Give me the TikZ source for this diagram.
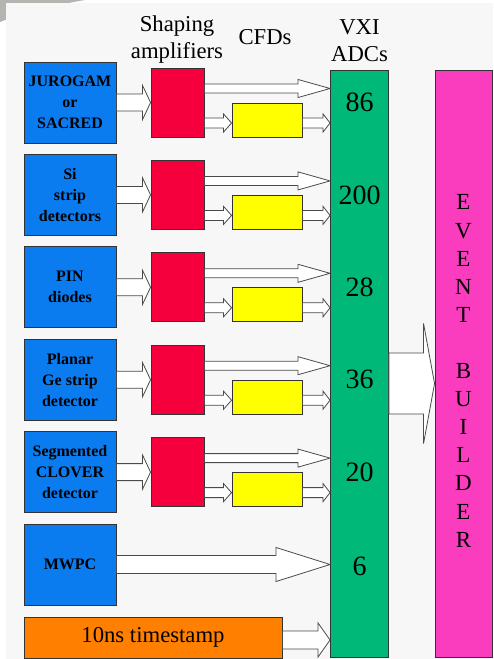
\documentclass[tikz,border=0pt]{standalone}
\usepackage{fontspec}
\setmainfont{Liberation Serif}
\usetikzlibrary{calc}
\definecolor{bgc}{HTML}{F7F7F7}
\definecolor{swoosh}{HTML}{B4B4B0}
\definecolor{detblue}{RGB}{10,124,240}
\definecolor{ampred}{RGB}{245,0,60}
\definecolor{cfdyel}{RGB}{255,255,0}
\definecolor{adcgreen}{RGB}{0,185,120}
\definecolor{evmag}{RGB}{250,60,190}
\definecolor{tsorange}{RGB}{255,128,0}
\definecolor{edge}{HTML}{333333}
\definecolor{arredge}{HTML}{4A4A4A}
\newcommand\barrow[5]{%
  \draw[barr] let \p1=(#1), \p2=(#2) in
    (\x1,\y2+#3pt) -- (\x2-#5pt,\y2+#3pt) -- (\x2-#5pt,\y2+#4pt) -- (\x2,\y2)
    -- (\x2-#5pt,\y2-#4pt) -- (\x2-#5pt,\y2-#3pt) -- (\x1,\y2-#3pt) -- cycle;}
\tikzset{
  box/.style={draw=edge, line width=0.9pt, inner sep=0pt, align=center},
  detbox/.style={box, fill=detblue, minimum width=92pt, minimum height=81pt,
    font=\bfseries\fontsize{16}{21}\selectfont},
  ampbox/.style={box, fill=ampred, minimum width=53pt, minimum height=69pt},
  cfdbox/.style={box, fill=cfdyel, minimum width=70pt, minimum height=34pt},
  hdr/.style={align=center, inner sep=0pt, font=\fontsize{22.7}{27}\selectfont},
  num/.style={inner sep=0pt, font=\fontsize{28}{30}\selectfont},
  barr/.style={draw=arredge, fill=white, line width=0.8pt, line join=miter},
}
\begin{document}
\begin{tikzpicture}[x=1pt,y=-1pt]
\useasboundingbox (0,0) rectangle (493,659);
\fill[white] (0,0) rectangle (493,659);
\fill[swoosh] (0,0) -- (85,0) .. controls (50,6) and (20,14) .. (0,22) -- cycle;
\fill[bgc] (6,3) rectangle (493,659);

% headers
\node[hdr] (hamp) at (177,40) {Shaping\\amplifiers};
\node[hdr] (hcfd) at (265,37) {CFDs};
\node[hdr] (hadc) at (359.5,41) {VXI\\ADCs};

% ADC and event builder
\node[box, fill=adcgreen, minimum width=58pt, minimum height=587pt] (adc) at (359.5,363.5) {};
\node[box, fill=evmag, minimum width=57pt, minimum height=587pt] (eb) at (463.5,363.5) {};
\node[align=center, inner sep=0pt, font=\fontsize{23}{28.1}\selectfont] (ebt) at (463.5,371)
  {E\\V\\E\\N\\T\\~\\B\\U\\I\\L\\D\\E\\R};

% detector rows
\node[detbox] (b1) at (70,102.5) {JUROGAM\\or\\SACRED};
\node[detbox] (b2) at (70,194.9) {Si\\strip\\detectors};
\node[detbox] (b3) at (70,287.3) {PIN\\diodes};
\node[detbox] (b4) at (70,379.7) {Planar\\Ge strip\\detector};
\node[detbox] (b5) at (70,472.1) {Segmented\\CLOVER\\detector};
\node[detbox] (b6) at (70,564.5) {MWPC};

\foreach \i/\y/\n in {1/102.5/86, 2/194.9/200, 3/287.3/28, 4/379.7/36, 5/472.1/20}{
  \node[ampbox] (r\i) at (177.5,\y) {};
  \node[cfdbox] (c\i) at (267,\y+17.5) {};
  \node[num] (n\i) at (359.5,\y) {\n};
  \barrow{b\i.east}{r\i.west}{8.5}{17}{8}
  \barrow{r\i.east}{$(adc.west|-r\i.center)+(0,-14)$}{4.5}{9}{32}
  \barrow{r\i.east}{$(c\i.west|-r\i.center)+(0,20.5)$}{5}{9}{8}
  \barrow{c\i.east}{$(adc.west|-r\i.center)+(0,20.5)$}{5}{9}{7}
}
\node[num] (n6) at (359.5,566) {6};

% timestamp
\node[box, fill=tsorange, minimum width=258pt, minimum height=41pt,
  font=\fontsize{22.7}{27}\selectfont] (ts) at (153,637.5) {10ns timestamp};

\barrow{b6.east}{adc.west|-b6.center}{9}{17}{54}
\barrow{ts.east}{$(adc.west|-ts.center)+(0,2.5)$}{9}{17}{12}
\barrow{adc.east}{$(eb.west)+(0,20)$}{30.5}{60}{11}
\end{tikzpicture}
\end{document}
